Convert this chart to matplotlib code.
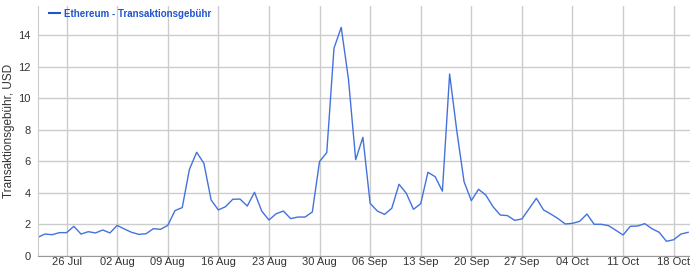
import matplotlib
matplotlib.use("Agg")
import matplotlib.pyplot as plt
import matplotlib.dates as mdates
import numpy as np
import pandas as pd

start_date = "2021-07-22"
fees = [1.17, 1.38, 1.34, 1.47, 1.47, 1.87, 1.38, 1.53, 1.45, 1.64, 1.45,
        1.93, 1.70, 1.49, 1.36, 1.40, 1.72, 1.68, 1.93, 2.87, 3.06, 5.49,
        6.57, 5.87, 3.54, 2.91, 3.12, 3.59, 3.60, 3.16, 4.03, 2.84, 2.27,
        2.67, 2.84, 2.36, 2.46, 2.46, 2.78, 5.98, 6.55, 13.17, 14.50, 11.22,
        6.10, 7.52, 3.33, 2.84, 2.63, 3.02, 4.54, 3.97, 2.95, 3.31, 5.30,
        5.02, 4.10, 11.54, 7.90, 4.70, 3.50, 4.22, 3.86, 3.12, 2.59, 2.55,
        2.25, 2.34, 2.99, 3.65, 2.91, 2.65, 2.36, 2.02, 2.06, 2.19, 2.65,
        2.00, 2.00, 1.91, 1.62, 1.32, 1.87, 1.89, 2.04, 1.72, 1.49, 0.92,
        1.02, 1.38, 1.49]
dates = pd.date_range(start_date, periods=len(fees), freq="D")

tick_dates = pd.to_datetime(["2021-07-26", "2021-08-02", "2021-08-09", "2021-08-16",
                             "2021-08-23", "2021-08-30", "2021-09-06", "2021-09-13",
                             "2021-09-20", "2021-09-27", "2021-10-04", "2021-10-11",
                             "2021-10-18"])
y_ticks = [0, 2, 4, 6, 8, 10, 12, 14]
series_name = "Ethereum - Transaktionsgebühr"
y_label = "Transaktionsgebühr, USD"

plt.rcParams['font.family'] = ['Liberation Sans', 'DejaVu Sans']

fig = plt.figure(figsize=(6.9, 2.68), dpi=100)
ax = fig.add_axes([0.0546, 0.0455, 1 - 0.0546, 0.978 - 0.0455])

line_color = "#4472dd"
ax.plot(dates, fees, color=line_color, linewidth=1.0)

ax.set_xlim(pd.Timestamp("2021-07-22"), pd.Timestamp("2021-07-22") + pd.Timedelta(days=90.26))
ax.set_ylim(0, 15.86)

ax.set_xticks(tick_dates)
ax.xaxis.set_major_formatter(mdates.DateFormatter("%d %b"))
ax.set_yticks(y_ticks)
ax.tick_params(axis="both", length=0, labelsize=8, colors="#333333")
ax.tick_params(axis="x", pad=1)
ax.tick_params(axis="y", pad=5)

ax.grid(True, color="#cccccc", linewidth=1.0)
ax.set_axisbelow(True)
for s in ["top", "right"]:
    ax.spines[s].set_visible(False)
ax.spines["left"].set_color("#cccccc")
ax.spines["bottom"].set_color("#999999")

ax.set_ylabel(y_label, fontsize=8.5, color="#333333")
ax.yaxis.set_label_coords(-0.035, 0.5)

leg = ax.legend([series_name], loc="upper left", frameon=False,
                bbox_to_anchor=(0.012, 1.005), borderaxespad=0.0,
                handlelength=1.1, handletextpad=0.4,
                prop={"size": 7, "weight": "bold"})
for t in leg.get_texts():
    t.set_color("#2255cc")
leg.get_lines()[0].set_color("#2255cc")
leg.get_lines()[0].set_linewidth(1.5)

fig.savefig("out.png", dpi=100)
